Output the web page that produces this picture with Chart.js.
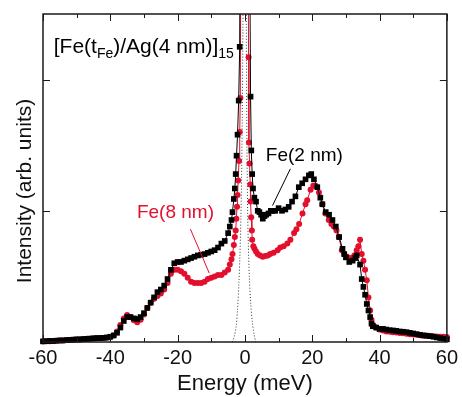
<!DOCTYPE html>
<html>
<head>
<meta charset="utf-8">
<script src="https://cdn.jsdelivr.net/npm/chart.js@4.4.1/dist/chart.umd.min.js"></script>
<style>
  html, body { margin: 0; padding: 0; background: #fff; }
  canvas { display: block; }
</style>
</head>
<body>
<canvas id="spectrum" width="462" height="397"></canvas>
<script>
// Fe(2 nm) spectrum, black squares
const fe2Energy = [
    -60, -59, -58, -57, -56, -55, -54, -53, -52, -51, -50, -49, -48, -47, -46, -45, -44, -43, -42, -41,
    -40, -39, -38, -37, -36, -35, -34, -33, -32, -31, -30, -29, -28, -27, -26, -25, -24, -23, -22, -21,
    -20, -19, -18, -17, -16, -15, -14, -13, -12, -11, -10, -9, -8, -7, -6, -5, -4.5, -4, -3.7, -3.3,
    -3, -2.75, -2.5, -2.2, -1.86, -1.56, -1.2, -0.8, -0.4, 0, 0.4, 0.8, 1.2, 1.67, 1.9, 2.15, 2.4, 2.8, 3.3, 3.8,
    4.3, 4.8, 5.3, 5.8, 6.3, 7, 7.7, 8.2, 9, 10, 11, 12, 13, 14, 15, 16, 17, 18, 19, 19.7,
    20.5, 21.5, 22.4, 23, 24, 25, 26, 27, 28, 29, 29.5, 30, 31, 32, 32.8, 33.2, 34.2, 34.7, 35.2, 35.7,
    36.2, 36.7, 37.2, 37.6, 38, 39, 40, 41, 42, 43, 44, 45, 46, 47, 48, 49, 50, 51, 52, 53, 54, 55, 56, 57, 58, 59, 60
];
const fe2Intensity = [
    0.005, 0.006, 0.008, 0.008, 0.01, 0.012, 0.012, 0.014, 0.016, 0.018, 0.02, 0.02, 0.022, 0.024, 0.026, 0.028, 0.03, 0.03, 0.032, 0.035,
    0.04, 0.05, 0.07, 0.11, 0.16, 0.19, 0.19, 0.18, 0.175, 0.19, 0.22, 0.26, 0.30, 0.34, 0.38, 0.40, 0.43, 0.48, 0.55, 0.60,
    0.61, 0.61, 0.62, 0.63, 0.64, 0.65, 0.66, 0.665, 0.67, 0.68, 0.69, 0.70, 0.72, 0.75, 0.77, 0.83, 0.88, 0.93, 0.99, 1.09,
    1.17, 1.28, 1.42, 1.58, 1.84, 2.25, 4.5, 8, 10, 10, 9, 7, 4, 1.87, 1.46, 1.28, 1.17, 1.10, 1.07, 1.0,
    0.99, 0.97, 0.94, 0.96, 0.97, 0.98, 1.0, 1.0, 1.0, 1.02, 1.0, 1.01, 1.03, 1.07, 1.11, 1.18, 1.21, 1.24, 1.27, 1.28,
    1.24, 1.18, 1.10, 1.05, 0.99, 0.97, 0.93, 0.88, 0.80, 0.71, 0.67, 0.645, 0.61, 0.62, 0.64, 0.66, 0.59, 0.48, 0.42, 0.36,
    0.29, 0.24, 0.19, 0.14, 0.12, 0.11, 0.10, 0.10, 0.095, 0.09, 0.088, 0.085, 0.08, 0.078, 0.075, 0.07, 0.065, 0.06, 0.055, 0.05, 0.048, 0.045, 0.04, 0.035, 0.03, 0.025, 0.02
];

// Fe(8 nm) spectrum, red circles
const fe8Energy = [
    -60, -59, -58, -57, -56, -55, -54, -53, -52, -51, -50, -49, -48, -47, -46, -45, -44, -43, -42, -41,
    -40, -39, -38, -37, -36, -35, -34, -33, -32, -31, -30, -29, -28, -27, -26, -25, -24, -23, -22, -21,
    -20, -19, -18, -17, -16, -15, -14, -13, -12, -11, -10, -9, -8, -7, -6, -5, -4.5, -4, -3.7, -3.3,
    -3, -2.75, -2.55, -2.35, -2.2, -2, -1.76, -1.55, -1.37, -1.1, -0.7, -0.3, 0.2, 0.6, 0.9, 1.08, 1.18, 1.37, 1.57, 1.67,
    1.86, 2.06, 2.15, 2.5, 2.84, 3.3, 3.8, 4.5, 5.3, 6, 6.8, 7.5, 8.5, 9.7, 10.5, 11.5, 12.6, 13.5, 14.6, 15.3,
    16.1, 17.1, 18, 18.5, 19.5, 20.3, 21, 22, 23, 23.9, 24.9, 25.7, 26.4, 27.2, 27.9, 28.8, 29.5, 30.3, 31, 31.8,
    32.5, 33.2, 33.7, 34.2, 34.7, 35.2, 35.7, 36.2, 36.7, 37.2, 37.6, 38.1,
    39, 40, 41, 42, 43, 44, 45, 46, 47, 48, 49, 50, 51, 52, 53, 54, 55, 56, 57, 58, 59, 60
];
const fe8Intensity = [
    0.003, 0.005, 0.006, 0.008, 0.01, 0.012, 0.012, 0.015, 0.016, 0.018, 0.02, 0.02, 0.022, 0.024, 0.025, 0.026, 0.028, 0.03, 0.03, 0.033,
    0.038, 0.05, 0.08, 0.13, 0.18, 0.205, 0.19, 0.165, 0.15, 0.17, 0.21, 0.26, 0.30, 0.33, 0.35, 0.37, 0.40, 0.45, 0.52, 0.55,
    0.55, 0.54, 0.52, 0.49, 0.46, 0.45, 0.45, 0.45, 0.46, 0.48, 0.49, 0.50, 0.51, 0.51, 0.53, 0.55, 0.59, 0.63, 0.67, 0.74,
    0.80, 0.85, 0.94, 1.03, 1.12, 1.23, 1.38, 1.6, 1.86, 4, 8, 10, 9, 6, 3.5, 2.17, 1.52, 1.36, 1.2, 1.07,
    0.95, 0.85, 0.78, 0.73, 0.71, 0.69, 0.67, 0.66, 0.65, 0.655, 0.66, 0.67, 0.68, 0.70, 0.72, 0.73, 0.75, 0.78, 0.83, 0.86,
    0.90, 0.98, 1.05, 1.08, 1.16, 1.19, 1.19, 1.14, 1.05, 0.98, 0.93, 0.90, 0.88, 0.85, 0.80, 0.70, 0.67, 0.65, 0.64, 0.64,
    0.66, 0.70, 0.73, 0.78, 0.67, 0.62, 0.55, 0.47, 0.34, 0.24, 0.17, 0.13,
    0.11, 0.095, 0.088, 0.08, 0.078, 0.075, 0.072, 0.068, 0.066, 0.062, 0.06, 0.058, 0.055, 0.052, 0.05, 0.048, 0.045, 0.043, 0.042, 0.04, 0.04, 0.038
];

// resolution function (dotted)
const resEnergy = [-3.8, -3.2, -2.6, -2.2, -1.8, -1.5, -1.2, -1.0, -0.8, -0.6, -0.4, -0.2, 0, 0.2, 0.4, 0.6, 0.8, 1.0, 1.3, 1.7, 2.2, 2.7, 3.2];
const resIntensity = [0, 0.04, 0.12, 0.25, 0.45, 0.65, 0.95, 1.25, 1.7, 2.4, 3.5, 4.5, 4.5, 3.5, 2.4, 1.5, 1.0, 0.75, 0.5, 0.3, 0.15, 0.06, 0];

const xMajorTicks = [-60, -40, -20, 0, 20, 40, 60];
const xMinorTicks = [-50, -30, -10, 10, 30, 50];
const yMajorTicks = [1, 2];

const red = '#e20f2d';
const fontFamily = '"Liberation Sans", Arial, sans-serif';
Chart.defaults.font.family = fontFamily;

function toPoints(xs, ys) {
    return xs.map((x, i) => ({ x: x, y: ys[i] }));
}

// labels placed in data coordinates
const notes = [
    { color: '#000', at: [6.2, 1.376], size: 19, parts: [['Fe(2 nm)', false]], line: [[13.5, 1.32], [8.2, 1.04]] },
    { color: red, at: [-32.1, 0.943], size: 19, parts: [['Fe(8 nm)', false]], line: [[-16.2, 0.86], [-10.6, 0.525]] },
    { color: '#000', at: [-56.8, 2.205], size: 21,
      parts: [['[Fe(t', false], ['Fe', true], [')/Ag(4 nm)]', false], ['15', true]] }
];

function drawParts(ctx, parts, x, y, size) {
    let cx = x;
    for (const [text, sub] of parts) {
        ctx.font = (sub ? Math.round(size * 0.68) : size) + 'px ' + fontFamily;
        ctx.fillText(text, cx, y + (sub ? size * 0.24 : 0));
        cx += ctx.measureText(text).width;
    }
}

const framePlugin = {
    id: 'frame',
    afterDatasetsDraw(chart) {
        const { ctx, chartArea: a, scales: { x, y } } = chart;
        ctx.save();
        ctx.strokeStyle = '#1a1a1a';
        ctx.lineWidth = 1.5;
        ctx.strokeRect(a.left, a.top, a.right - a.left, a.bottom - a.top);

        // inward ticks on all four sides
        ctx.lineWidth = 1;
        ctx.beginPath();
        const xTick = (v, len) => {
            const px = Math.round(x.getPixelForValue(v)) + 0.5;
            ctx.moveTo(px, a.bottom); ctx.lineTo(px, a.bottom - len);
            ctx.moveTo(px, a.top); ctx.lineTo(px, a.top + len);
        };
        xMajorTicks.forEach(v => xTick(v, 7));
        xMinorTicks.forEach(v => xTick(v, 4));
        yMajorTicks.forEach(v => {
            const py = Math.round(y.getPixelForValue(v)) + 0.5;
            ctx.moveTo(a.left, py); ctx.lineTo(a.left + 7, py);
            ctx.moveTo(a.right, py); ctx.lineTo(a.right - 7, py);
        });
        ctx.stroke();

        // labels and pointer lines
        ctx.textBaseline = 'alphabetic';
        ctx.textAlign = 'left';
        for (const n of notes) {
            ctx.fillStyle = n.color;
            drawParts(ctx, n.parts, x.getPixelForValue(n.at[0]), y.getPixelForValue(n.at[1]), n.size);
            if (n.line) {
                ctx.strokeStyle = n.color;
                ctx.lineWidth = 1;
                ctx.beginPath();
                ctx.moveTo(x.getPixelForValue(n.line[0][0]), y.getPixelForValue(n.line[0][1]));
                ctx.lineTo(x.getPixelForValue(n.line[1][0]), y.getPixelForValue(n.line[1][1]));
                ctx.stroke();
            }
        }

        // y axis title
        ctx.fillStyle = '#111';
        ctx.font = '21px ' + fontFamily;
        ctx.textAlign = 'center';
        ctx.textBaseline = 'middle';
        ctx.translate(25, (a.top + a.bottom) / 2 + 13);
        ctx.rotate(-Math.PI / 2);
        ctx.fillText('Intensity (arb. units)', 0, 0);
        ctx.restore();
    }
};

const clipArea = { left: 5, top: 0, right: 5, bottom: 5 };

new Chart(document.getElementById('spectrum'), {
    type: 'line',
    data: {
        datasets: [
            {
                label: 'Fe(2 nm)',
                data: toPoints(fe2Energy, fe2Intensity),
                borderColor: '#000',
                borderWidth: 1,
                pointStyle: 'rect',
                pointRadius: 4,
                pointBackgroundColor: '#000',
                pointBorderWidth: 0,
                clip: clipArea
            },
            {
                label: 'Fe(8 nm)',
                data: toPoints(fe8Energy, fe8Intensity),
                borderColor: red,
                borderWidth: 1,
                pointStyle: 'circle',
                pointRadius: 3,
                pointBackgroundColor: red,
                pointBorderWidth: 0,
                clip: clipArea
            },
            {
                label: 'resolution',
                data: toPoints(resEnergy, resIntensity),
                borderColor: '#333',
                borderWidth: 1,
                borderDash: [1, 2],
                pointRadius: 0,
                tension: 0.3,
                clip: clipArea
            }
        ]
    },
    options: {
        responsive: false,
        animation: false,
        layout: { padding: { top: 14, right: 11, left: 0, bottom: 0 } },
        plugins: { legend: { display: false }, tooltip: { enabled: false } },
        scales: {
            x: {
                type: 'linear',
                min: -60,
                max: 60,
                afterBuildTicks: s => { s.ticks = xMajorTicks.map(v => ({ value: v })); },
                afterFit: s => { s.height = 55; },
                grid: { display: false, drawTicks: false },
                border: { display: false },
                ticks: { padding: 4, color: '#111', font: { size: 20 }, maxRotation: 0, autoSkip: false },
                title: { display: true, text: 'Energy (meV)', color: '#111', font: { size: 22 }, padding: { top: 0, bottom: 0 } }
            },
            y: {
                min: 0,
                max: 2.5,
                afterFit: s => { s.width = 43; },
                ticks: { display: false },
                grid: { display: false, drawTicks: false },
                border: { display: false }
            }
        }
    },
    plugins: [framePlugin]
});
</script>
</body>
</html>
